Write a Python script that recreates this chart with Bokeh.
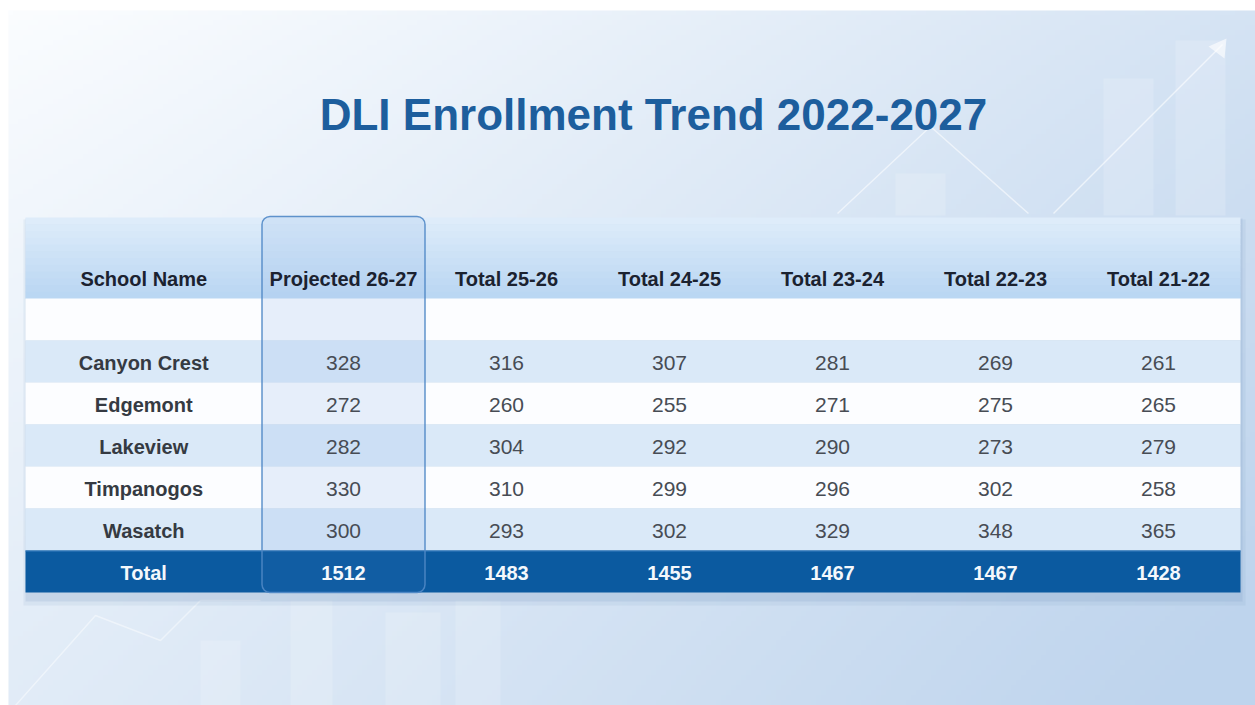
from bokeh.plotting import figure
from bokeh.models import Range1d, ColumnDataSource
from bokeh.core.properties import value
from bokeh.embed import file_html
from bokeh.resources import INLINE
import numpy as np

# ---------------- data ----------------
title = "DLI Enrollment Trend 2022-2027"
columns = ["School Name", "Projected 26-27", "Total 25-26", "Total 24-25",
           "Total 23-24", "Total 22-23", "Total 21-22"]
schools = ["Canyon Crest", "Edgemont", "Lakeview", "Timpanogos", "Wasatch"]
proj_26_27 = [328, 272, 282, 330, 300]
total_25_26 = [316, 260, 304, 310, 293]
total_24_25 = [307, 255, 292, 299, 302]
total_23_24 = [281, 271, 290, 296, 329]
total_22_23 = [269, 275, 273, 302, 348]
total_21_22 = [261, 265, 279, 258, 365]
total_label = "Total"
totals = [1512, 1483, 1455, 1467, 1467, 1428]

series = [proj_26_27, total_25_26, total_24_25, total_23_24, total_22_23, total_21_22]

# ---------------- layout (screen pixel coordinates) ----------------
W, H = 1255, 705
BG_X, BG_Y = 8, 10
T_LEFT, T_RIGHT = 25, 1240
FIRST_W = 236.5
COL_W = 163.0
HEAD_TOP, HEAD_BOT = 217, 298
BLANK_BOT = 340
ROW_H = 42

col_left = [T_LEFT] + [T_LEFT + FIRST_W + COL_W * i for i in range(6)]
col_right = [T_LEFT + FIRST_W] + [T_LEFT + FIRST_W + COL_W * (i + 1) for i in range(6)]
col_cx = [(a + b) / 2 for a, b in zip(col_left, col_right)]

p = figure(width=W, height=H, output_backend="svg", toolbar_location=None,
           x_range=Range1d(0, W), y_range=Range1d(H, 0), min_border=0)
p.axis.visible = False
p.grid.visible = False
p.outline_line_color = None
p.background_fill_color = "#ffffff"
p.border_fill_color = "#ffffff"

# ---------------- background gradient ----------------
gw, gh = 250, 140
xs = np.linspace(0, 1, gw)[None, :]
ys = np.linspace(0, 1, gh)[:, None]
t = np.clip(0.62 * xs ** 1.1 + 0.42 * ys ** 0.8, 0, 1)
c0 = np.array([251, 253, 255])
c1 = np.array([190, 212, 237])
img = np.empty((gh, gw), dtype=np.uint32)
view = img.view(dtype=np.uint8).reshape((gh, gw, 4))
for k in range(3):
    view[:, :, k] = (c0[k] * (1 - t) + c1[k] * t).astype(np.uint8)
view[:, :, 3] = 255
p.image_rgba(image=[img], x=BG_X, y=BG_Y, dw=W - BG_X, dh=H - BG_Y)

# faint decorative chart shapes
p.quad(left=[1103, 895, 1175, 290, 385, 455, 200], right=[1153, 945, 1225, 332, 440, 500, 240],
       top=[78, 173, 40, 600, 612, 600, 640], bottom=[215, 215, 215, 705, 705, 705, 705],
       fill_color="#ffffff", fill_alpha=0.16, line_color=None)
p.line([837, 930, 1028], [213, 126, 213], line_color="#ffffff", line_alpha=0.55, line_width=1.5)
p.line([1053, 1222], [213, 44], line_color="#ffffff", line_alpha=0.6, line_width=1.5)
p.patch([1208, 1226, 1224], [46, 38, 58], fill_color="#ffffff", fill_alpha=0.6, line_color=None)
p.line([15, 95, 160, 200, 260], [705, 615, 640, 600, 600], line_color="#ffffff", line_alpha=0.45, line_width=1.5)

# ---------------- table ----------------
# shadow
p.quad(left=[T_LEFT - 2], right=[T_RIGHT + 5], top=[HEAD_TOP + 2], bottom=[HEAD_BOT + 300 + 7],
       fill_color="#6f8fb8", fill_alpha=0.10, line_color=None)
p.quad(left=[T_LEFT], right=[T_RIGHT + 2], top=[HEAD_TOP + 1], bottom=[HEAD_BOT + 300 + 3],
       fill_color="#6f8fb8", fill_alpha=0.16, line_color=None)

# header gradient stripes
n = 12
top_c = np.array([222, 236, 250]); bot_c = np.array([186, 215, 243])
for i in range(n):
    f = i / (n - 1)
    c = (top_c * (1 - f) + bot_c * f).astype(int)
    y_a = HEAD_TOP + (HEAD_BOT - HEAD_TOP) * i / n
    y_b = HEAD_TOP + (HEAD_BOT - HEAD_TOP) * (i + 1) / n
    p.quad(left=[T_LEFT], right=[T_RIGHT], top=[y_a], bottom=[y_b + 0.5],
           fill_color="#%02x%02x%02x" % tuple(c), line_color=None)

# blank row
p.quad(left=[T_LEFT], right=[T_RIGHT], top=[HEAD_BOT], bottom=[BLANK_BOT],
       fill_color="#fcfdff", line_color=None)

# data rows
row_top = [BLANK_BOT + ROW_H * i for i in range(len(schools))]
row_bot = [r + ROW_H for r in row_top]
row_col = ["#dae9f8" if i % 2 == 0 else "#fcfdff" for i in range(len(schools))]
p.quad(left=T_LEFT, right=T_RIGHT, top=row_top, bottom=row_bot, fill_color=row_col, line_color=None)

# total row
tot_top = row_bot[-1]
tot_bot = tot_top + ROW_H
p.quad(left=[T_LEFT], right=[T_RIGHT], top=[tot_top], bottom=[tot_bot],
       fill_color="#0b5aa0", line_color=None)
p.line([T_LEFT, T_RIGHT], [tot_top + 0.5, tot_top + 0.5], line_color="#3b7fc0", line_width=1)

# highlighted projected column
p.quad(left=[col_left[1]], right=[col_right[1]], top=[HEAD_TOP - 1], bottom=[tot_top],
       fill_color="#a6c6ec", fill_alpha=0.26, line_color=None,
       border_radius=(8, 8, 0, 0))
p.quad(left=[col_left[1]], right=[col_right[1]], top=[tot_top], bottom=[tot_bot],
       fill_color="#1c63a8", fill_alpha=0.35, line_color=None,
       border_radius=(0, 0, 8, 8))
p.quad(left=[col_left[1]], right=[col_right[1]], top=[HEAD_TOP - 1], bottom=[tot_bot],
       fill_color=None, line_color="#5088c6", line_width=1.5, line_alpha=0.9,
       border_radius=8)

# ---------------- text ----------------
FONT = value("Liberation Sans")
head = ColumnDataSource(dict(x=col_cx, y=[278] * len(columns), t=columns))
p.text(x="x", y="y", text="t", source=head, text_font=FONT, text_font_style="bold",
       text_font_size="20px", text_color="#1b2230", text_align="center", text_baseline="middle")

row_cy = [(a + b) / 2 + 1.5 for a, b in zip(row_top, row_bot)]
names = ColumnDataSource(dict(x=[col_cx[0]] * len(schools), y=row_cy, t=schools))
p.text(x="x", y="y", text="t", source=names, text_font=FONT, text_font_style="bold",
       text_font_size="20px", text_color="#353a42", text_align="center", text_baseline="middle")

nx, ny, nt = [], [], []
for j, s in enumerate(series):
    for i, v in enumerate(s):
        nx.append(col_cx[j + 1]); ny.append(row_cy[i]); nt.append(str(v))
nums = ColumnDataSource(dict(x=nx, y=ny, t=nt))
p.text(x="x", y="y", text="t", source=nums, text_font=FONT, text_font_size="21px",
       text_color="#474c54", text_align="center", text_baseline="middle")

tot_cy = (tot_top + tot_bot) / 2 + 1.5
tsrc = ColumnDataSource(dict(x=col_cx, y=[tot_cy] * 7, t=[total_label] + [str(v) for v in totals]))
p.text(x="x", y="y", text="t", source=tsrc, text_font=FONT, text_font_style="bold",
       text_font_size="20px", text_color="#f4f8fc", text_align="center", text_baseline="middle")

# title
p.text(x=[653], y=[114], text=[title], text_font=FONT,
       text_font_style="bold", text_font_size="44px", text_color="#1d5e9d",
       text_align="center", text_baseline="middle")

open("out.html", "w").write(file_html(p, INLINE))
